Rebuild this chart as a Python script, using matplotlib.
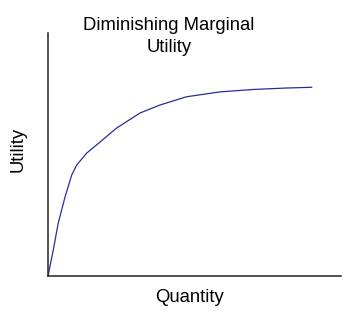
import matplotlib.pyplot as plt

# curve (axes run 0-100 on both sides)
quantity = [0, 1.8, 3.5, 5.8, 8.1, 9.8, 13.2, 17.7, 23.4, 31.4, 38.2, 47.3, 58.7, 70.0, 81.5, 90.0]
utility = [0, 10.7, 21.8, 32.5, 41.6, 45.7, 50.6, 55.1, 60.9, 67.1, 70.4, 73.8, 75.8, 76.8, 77.4, 77.7]

title_lines = ['Diminishing Marginal', 'Utility']

plt.rcParams['font.family'] = ['Liberation Sans', 'DejaVu Sans']

fig = plt.figure(figsize=(3.54, 3.2), dpi=100)
ax = fig.add_axes([0.1356, 0.1375, 0.8277, 0.759])
ax.plot(quantity, utility, color='#2b2b98', linewidth=0.9)
ax.set_xlim(0, 100)
ax.set_ylim(0, 100)
ax.set_xticks([])
ax.set_yticks([])
for s in ['top', 'right']:
    ax.spines[s].set_visible(False)
for s in ['left', 'bottom']:
    ax.spines[s].set_linewidth(1.1)
    ax.spines[s].set_color('#222222')

fig.text(169 / 354, 1 - 26 / 320, title_lines[0], ha='center', va='center', fontsize=13.3)
fig.text(169 / 354, 1 - 48 / 320, title_lines[1], ha='center', va='center', fontsize=13.3)
fig.text(18 / 354, 1 - 149 / 320, 'Utility', ha='center', va='center', rotation=90, fontsize=13.3)
fig.text(189 / 354, 1 - 298 / 320, 'Quantity', ha='center', va='center', fontsize=13.3)

fig.savefig('out.png', dpi=100)
